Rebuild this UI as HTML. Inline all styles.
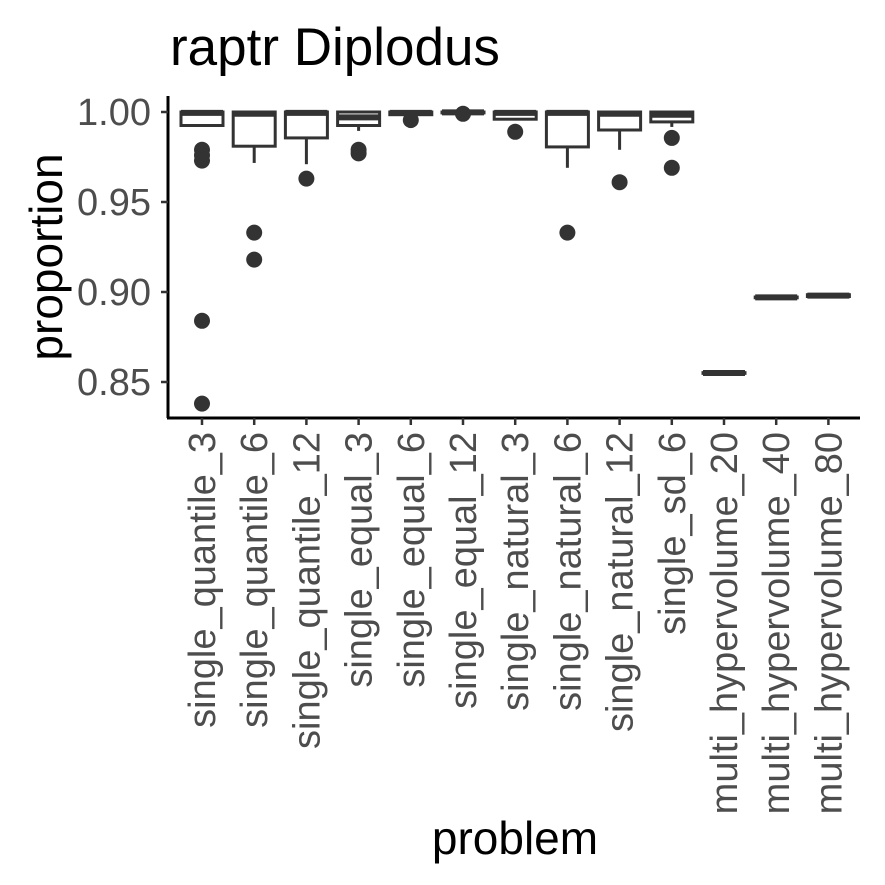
<!DOCTYPE html>
<html><head><meta charset="utf-8"><style>
body{margin:0;background:#fff}
svg{display:block;font-family:"Liberation Sans",sans-serif}
</style></head><body>
<svg id="chart" width="885" height="885" viewBox="0 0 885 885">
<text x="170" y="65" font-size="53" fill="#000">raptr Diplodus</text>
<text transform="translate(62,257) rotate(-90)" text-anchor="middle" font-size="46" fill="#000">proportion</text>
<text x="515" y="854" text-anchor="middle" font-size="46" fill="#000">problem</text>
<g id="plot"></g>
</svg>
<script>
const categories=["single_quantile_3","single_quantile_6","single_quantile_12","single_equal_3","single_equal_6","single_equal_12","single_natural_3","single_natural_6","single_natural_12","single_sd_6","multi_hypervolume_20","multi_hypervolume_40","multi_hypervolume_80"];
const q1s=[0.9925,0.981,0.9856,0.9925,0.9985,0.9995,0.996,0.9806,0.990,0.9945,0.8548,0.8968,0.8975];
const medians=[0.9995,0.999,0.9995,0.997,0.9995,0.9998,0.9995,0.9995,0.999,0.9985,0.855,0.897,0.898];
const q3s=[1.0,1.0,1.0,1.0,1.0,1.0,1.0,1.0,1.0,1.0,0.8552,0.8972,0.8985];
const whiskLo=[0.9925,0.9717,0.971,0.9895,0.9985,0.9995,0.996,0.969,0.979,0.9917,0.8548,0.8968,0.8975];
const whiskHi=[1.0,1.0,1.0,1.0,1.0,1.0,1.0,1.0,1.0,1.0,0.8552,0.8972,0.8985];
const outliers=[[0.979,0.976,0.973,0.884,0.838],[0.933,0.918],[0.963],[0.979,0.977],[0.9955],[0.999],[0.989],[0.933],[0.961],[0.9856,0.969],[],[],[]];
const yTicks=[0.85,0.90,0.95,1.00];
const yTickLabels=["0.85","0.90","0.95","1.00"];

const NS="http://www.w3.org/2000/svg";
const g=document.getElementById('plot');
const yScale=v=>112+(1-v)*1800;
const xScale=i=>202+i*52.2;
const boxW=42;
function mk(t,a){const e=document.createElementNS(NS,t);for(const k in a)e.setAttribute(k,a[k]);g.appendChild(e);return e;}
let ya=mk('line',{x1:168,y1:96,x2:168,y2:418,stroke:'#000','stroke-width':3});


let xa=mk('line',{x1:167,y1:418,x2:860,y2:418,stroke:'#000','stroke-width':3});


yTicks.forEach((v,i)=>{
 const y=yScale(v);
 let t=mk('line',{x1:161,y1:y,x2:168,y2:y,stroke:'#333','stroke-width':2.5});
 
 
 let l=mk('text',{x:151,y:y+13,'text-anchor':'end','font-size':38,fill:'#4d4d4d'});
 l.textContent=yTickLabels[i];
 
 
});
categories.forEach((c,i)=>{
 const x=xScale(i);
 let t=mk('line',{x1:x,y1:418,x2:x,y2:425,stroke:'#333','stroke-width':2.5});
 
 
 let l=mk('text',{transform:`translate(${x+13},432) rotate(-90)`,'text-anchor':'end','font-size':38,fill:'#4d4d4d'});
 l.textContent=c;
 
 
 let w1=mk('line',{x1:x,y1:yScale(q1s[i]),x2:x,y2:yScale(whiskLo[i]),stroke:'#333','stroke-width':3});
 
 
 let w2=mk('line',{x1:x,y1:yScale(q3s[i]),x2:x,y2:yScale(whiskHi[i]),stroke:'#333','stroke-width':3});
 
 
 let b=mk('rect',{x:x-boxW/2,y:yScale(q3s[i]),width:boxW,height:yScale(q1s[i])-yScale(q3s[i]),fill:'#fff',stroke:'#333','stroke-width':3});
 
 
 let m=mk('line',{x1:x-boxW/2,y1:yScale(medians[i]),x2:x+boxW/2,y2:yScale(medians[i]),stroke:'#333','stroke-width':6});
 
 
 outliers[i].forEach(v=>{
  let p=mk('circle',{cx:x,cy:yScale(v),r:8,fill:'#333'});
  
  
 });
});
</script>
</body></html>
